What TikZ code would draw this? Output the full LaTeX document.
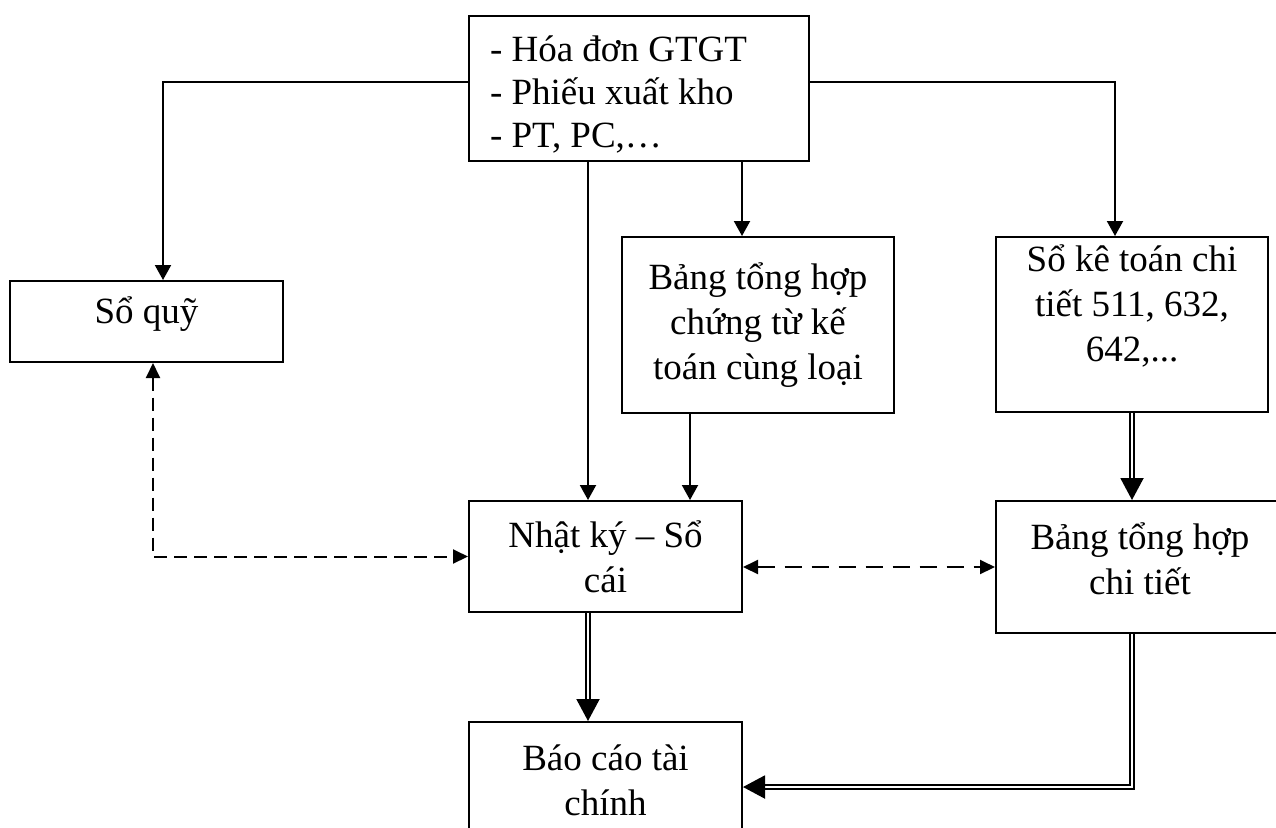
\documentclass[tikz,border=0pt]{standalone}
\usepackage{fontspec}
\setmainfont{Liberation Serif}
\usepackage{tikz}
\usetikzlibrary{arrows.meta}
\usetikzlibrary{positioning}
\tikzset{box/.style = {draw, line width = 1pt, align = center, inner sep = 2pt,
                       font = \fontsize{18.5}{22.5}\selectfont},
         arr/.style = {line width = 1pt, -{Triangle[length = 7.5pt, width = 8pt]}},
         dblarr/.style = {line width = 1pt, double, double distance = 1.2pt,
                          -{Triangle[length = 11pt, width = 11.5pt]}},
         dasharr/.style = {line width = 1pt, dash pattern = on 6.5pt off 3.5pt,
                           {Triangle[length = 7.5pt, width = 7pt]}-{Triangle[length = 7.5pt, width = 7pt]}},
         longdasharr/.style = {dasharr, dash pattern = on 8.5pt off 5pt}}

\begin{document}
\begin{tikzpicture}[x = 0.5pt, y = -0.5pt]
      \useasboundingbox (0, 0) rectangle (1276, 827);
      % boxes
      \node [box, minimum width = 170pt, minimum height = 72.5pt, text width = 149pt,
             inner xsep = 10.5pt, align = left, font = \fontsize{18.5}{21.5}\selectfont,
             text depth = 40pt] (docs) at (639, 88.5)
            {\spaceskip = 0pt - Hóa đơn GTGT\\- Phiếu xuất kho\\- PT, PC,…};
      \node [box, minimum width = 136.5pt, minimum height = 40.5pt, text depth = 11pt] (soquy) at (146.5, 321.5) {Sổ quỹ};
      \node [box, minimum width = 136pt, minimum height = 88pt] (btct) at (758, 325)
            {Bảng tổng hợp\\chứng từ kế\\toán cùng loại};
      \node [box, minimum width = 136pt, minimum height = 87.5pt, text depth = 21pt] (sktct) at (1132, 324.5)
            {Sổ kê toán chi\\tiết 511, 632,\\642,...};
      \node [box, minimum width = 136.5pt, minimum height = 55.5pt] (nkst) at (605.5, 556.5) {Nhật ký – Sổ\\cái};
      \node [box, minimum width = 144pt, minimum height = 66pt, text depth = 8pt] (bthct) at (1140, 567) {Bảng tổng hợp\\chi tiết};
      \node [box, minimum width = 136.5pt, minimum height = 58pt] (bctc) at (605.5, 780) {Báo cáo tài\\chính};
      % connectors
      \coordinate (jl) at (163, 82);
      \coordinate (jr) at (1115, 82);
      \draw [arr] (docs.west |- jl) -| (jl |- soquy.north);
      \draw [arr] (docs.east |- jr) -| (jr |- sktct.north);
      \draw [arr] ([xshift = -8pt]btct.north |- docs.south) -- ([xshift = -8pt]btct.north);
      \draw [arr] ([xshift = -8.75pt]nkst.north |- docs.south) -- ([xshift = -8.75pt]nkst.north);
      \draw [arr] ([xshift = -34pt]btct.south) -- ([xshift = -34pt]btct.south |- nkst.north);
      \draw [dblarr] (sktct.south) -- (sktct.south |- bthct.north);
      \draw [dblarr] ([xshift = -8.75pt]nkst.south) -- ([xshift = -8.75pt]nkst.south |- bctc.north);
      \draw [dblarr] ([xshift = -4pt]bthct.south) |- ([yshift = -3.5pt]bctc.east);
      \draw [dasharr] ([xshift = 3.25pt]soquy.south) |- (nkst.west);
      \draw [longdasharr] ([yshift = -5.25pt]nkst.east) -- ([yshift = -5.25pt]nkst.east -| bthct.west);
\end{tikzpicture}
\end{document}
